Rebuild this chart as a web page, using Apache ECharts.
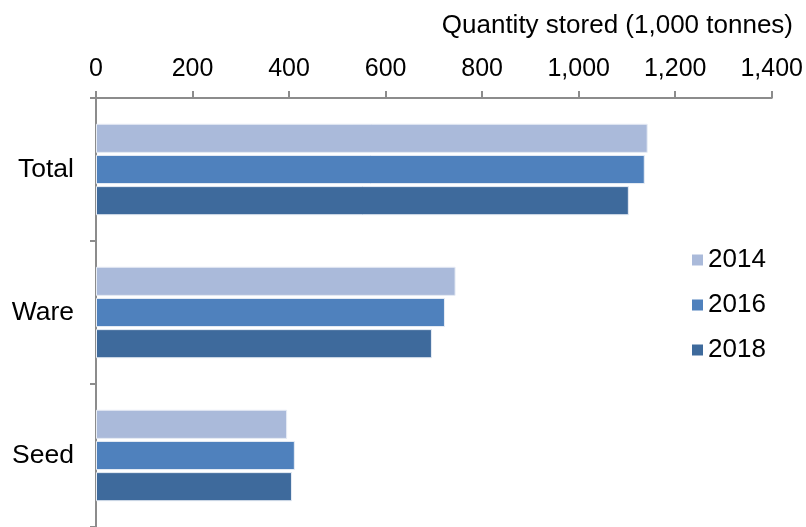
<!DOCTYPE html>
<html>
<head>
<meta charset="utf-8">
<script src="https://cdn.jsdelivr.net/npm/echarts@6/dist/echarts.min.js"></script>
<style>
  html, body { margin: 0; padding: 0; background: #fff; }
  #chart { width: 806px; height: 527px; }
</style>
</head>
<body>
<div id="chart"></div>
<script>
// Potato storage by type, thousand tonnes
const categories = ['Total', 'Ware', 'Seed'];
const years = ['2014', '2016', '2018'];
const values2014 = [1143, 745, 396];
const values2016 = [1137, 723, 412];
const values2018 = [1104, 696, 406];
const xTicks = [0, 200, 400, 600, 800, 1000, 1200, 1400];

const colors = ['#AABADA', '#4F81BD', '#3E6A9C'];
const seriesValues = [values2014, values2016, values2018];
const font = '"Liberation Sans", Arial, sans-serif';
const axisGrey = '#8c8c8c';

const chart = echarts.init(document.getElementById('chart'), null, { renderer: 'canvas' });

chart.setOption({
  animation: false,
  color: colors,
  title: {
    text: 'Quantity stored (1,000 tonnes)',
    right: 8,
    top: 8,
    textStyle: { fontFamily: font, fontSize: 26, fontWeight: 'normal', color: '#000' }
  },
  legend: {
    orient: 'vertical',
    left: 687,
    top: 242,
    itemWidth: 11,
    itemHeight: 11,
    itemGap: 19,
    icon: 'rect',
    data: years,
    itemStyle: { borderWidth: 0 },
    textStyle: { fontFamily: font, fontSize: 26, color: '#000' }
  },
  grid: { left: 96, right: 34, top: 98, bottom: 0, containLabel: false },
  xAxis: {
    type: 'value',
    position: 'top',
    min: xTicks[0],
    max: xTicks[xTicks.length - 1],
    interval: 200,
    axisLine: { show: true, lineStyle: { color: axisGrey, width: 2 } },
    axisTick: { show: true, length: 7, lineStyle: { color: axisGrey, width: 2 } },
    splitLine: { show: false },
    axisLabel: {
      margin: 16,
      fontFamily: font,
      fontSize: 25,
      color: '#000',
      formatter: v => v.toLocaleString('en-US')
    }
  },
  yAxis: {
    type: 'category',
    inverse: true,
    data: categories,
    axisLine: { show: true, lineStyle: { color: axisGrey, width: 2 } },
    axisTick: { show: true, length: 6, lineStyle: { color: axisGrey, width: 2 } },
    axisLabel: { margin: 22, padding: [8, 0, 0, 0], fontFamily: font, fontSize: 26.5, color: '#000' }
  },
  series: years.map((y, i) => ({
    name: y,
    type: 'bar',
    data: seriesValues[i],
    barGap: '7%',
    barCategoryGap: '36%',
    itemStyle: { color: colors[i], borderColor: '#e8edf5', borderWidth: 1 }
  }))
});
</script>
</body>
</html>
